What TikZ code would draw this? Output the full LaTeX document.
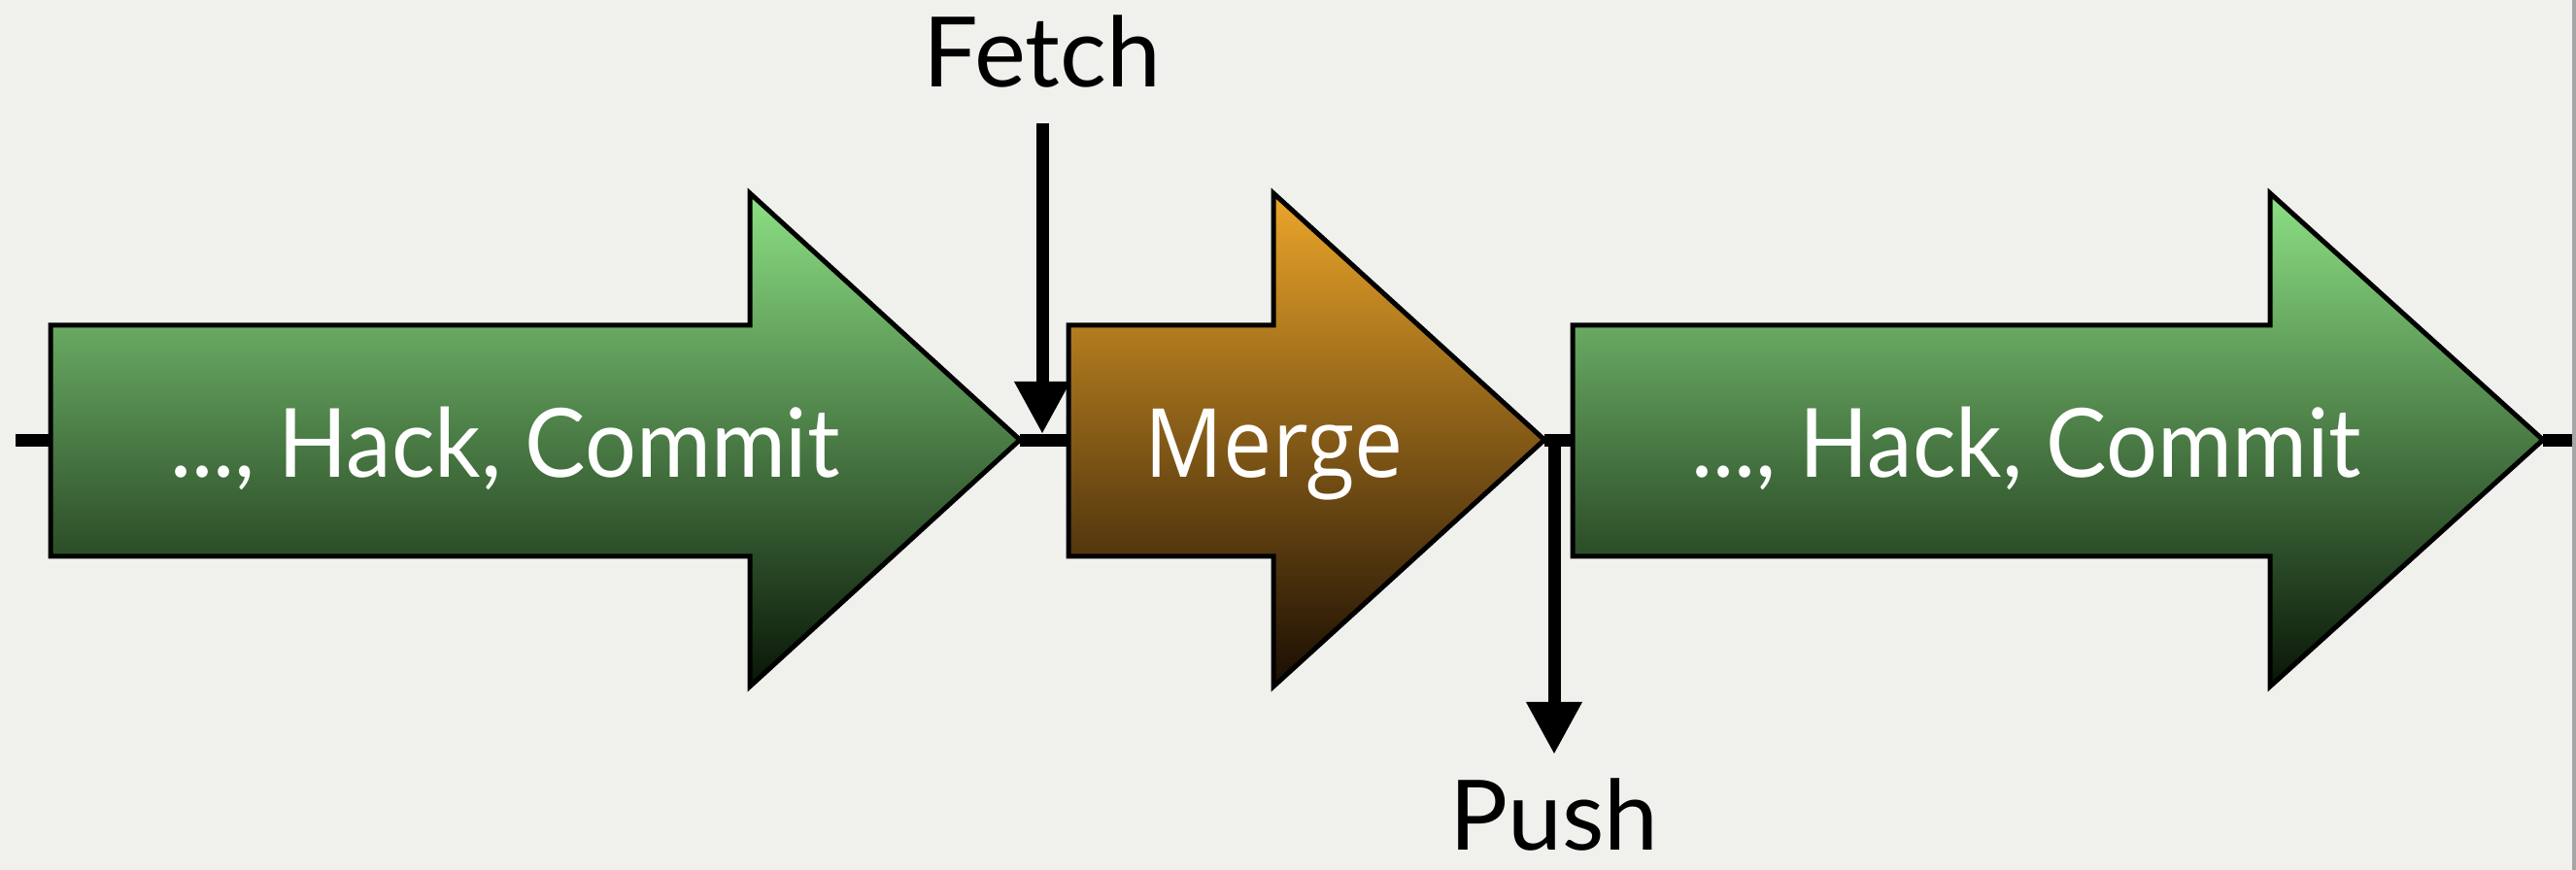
\documentclass[tikz,border=0pt]{standalone}
\usepackage{fontspec}
\setmainfont{Lato}
\newfontfamily\hackfont{Lato}[FakeStretch=0.95]
\newfontfamily\mergefont{Open Sans}[FakeStretch=0.91]
\usetikzlibrary{arrows.meta}
\usetikzlibrary{calc}

\definecolor{paper}{RGB}{240,240,237}
\definecolor{greentop}{RGB}{140,224,132}
\definecolor{greenmid}{RGB}{76,132,70}
\definecolor{greenbot}{RGB}{8,22,6}
\definecolor{orangetop}{RGB}{236,166,42}
\definecolor{orangemid}{RGB}{134,84,20}
\definecolor{orangebot}{RGB}{26,13,3}

\tikzset{
  hackarrow/.style={draw=black,line width=0.05cm,top color=greentop,middle color=greenmid,bottom color=greenbot},
  mergearrow/.style={draw=black,line width=0.05cm,top color=orangetop,middle color=orangemid,bottom color=orangebot},
  link/.style={black,line width=0.13cm},
  hacktext/.style={anchor=base,text=white,inner sep=0pt,font=\hackfont\fontsize{28}{34}\selectfont},
  steptext/.style={anchor=base,text=black,inner sep=0pt,font=\fontsize{28.5}{34}\selectfont}
}

\begin{document}
\begin{tikzpicture}
	\fill [paper] (0,0) rectangle (26.52,8.96);
	\useasboundingbox (0,0) rectangle (26.52,8.96);
	\draw [gray!70, line width=0.04cm] (26.50,0) -- (26.50,8.96);
	% the three block arrows
	\draw [hackarrow] (0.52,5.61) -- (7.72,5.61) -- (7.72,6.97) -- (10.50,4.43) -- (7.72,1.89) -- (7.72,3.23) -- (0.52,3.23) -- cycle;
	\draw [mergearrow] (11.00,5.61) -- (13.11,5.61) -- (13.11,6.97) -- (15.90,4.43) -- (13.11,1.89) -- (13.11,3.23) -- (11.00,3.23) -- cycle;
	\draw [hackarrow] (16.19,5.61) -- (23.37,5.61) -- (23.37,6.97) -- (26.18,4.43) -- (23.37,1.89) -- (23.37,3.23) -- (16.19,3.23) -- cycle;
	\coordinate (in) at (0.16,4.42);
	\coordinate (hack1tail) at (0.52,4.42);
	\coordinate (hack1tip) at (10.50,4.42);
	\coordinate (mergetail) at (11.00,4.42);
	\coordinate (mergetip) at (15.90,4.42);
	\coordinate (hack2tail) at (16.19,4.42);
	\coordinate (hack2tip) at (26.18,4.42);
	\coordinate (out) at (26.48,4.42);
	\node [hacktext] (hack1) at (5.20,4.04) {..., Hack, Commit};
	\node [hacktext,font=\mergefont\fontsize{28}{34}\selectfont] (merge) at (13.12,4.04) {Merge};
	\node [hacktext] (hack2) at (20.86,4.04) {..., Hack, Commit};
	\node [steptext] (fetch) at (10.73,8.06) {Fetch};
	\node [steptext] (push) at (16.00,0.20) {Push};
	\coordinate (fetchend) at (10.73,4.49);
	\coordinate (pushstart) at (16.00,4.42);
	\coordinate (pushend) at (16.00,1.19);
	\draw [link] (in) -- (hack1tail);
	\draw [link] (hack1tip) -- (mergetail);
	\draw [link] (mergetip) -- (hack2tail);
	\draw [link] (hack2tip) -- (out);
	\draw [link,-{Triangle[width=0.54cm,length=0.54cm]}] ($(fetch.north)+(0,-1.11)$) -- (fetchend);
	\draw [link,-{Triangle[width=0.54cm,length=0.54cm]}] (pushstart) -- (pushend);
\end{tikzpicture}
\end{document}
